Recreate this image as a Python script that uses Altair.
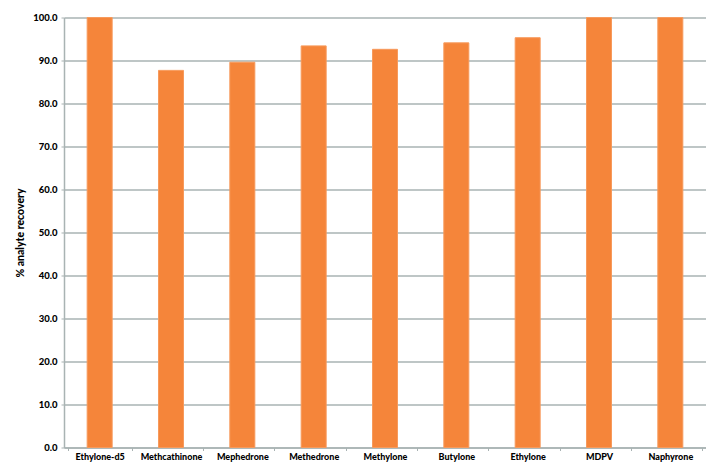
import altair as alt
import pandas as pd

compounds = ["Ethylone-d5", "Methcathinone", "Mephedrone", "Methedrone", "Methylone",
             "Butylone", "Ethylone", "MDPV", "Naphyrone"]
recovery = [100.0, 87.7, 89.6, 93.4, 92.6, 94.1, 95.3, 100.0, 100.0]
y_ticks = [0, 10, 20, 30, 40, 50, 60, 70, 80, 90, 100]

df = pd.DataFrame({"compound": compounds, "recovery": recovery})

FONT = "Lato"

chart = alt.Chart(df).mark_bar(
    color="#F5853A", stroke="#F79A5C", strokeWidth=1, size=25
).encode(
    x=alt.X("compound:N", sort=compounds, title=None,
            axis=alt.Axis(labelAngle=0, labelFont=FONT, labelFontWeight=900,
                          labelFontSize=9, labelColor="#000000", labelPadding=2,
                          tickBand="extent", tickColor="#A9B3B3", tickSize=3,
                          domainColor="#A9B3B3", domainWidth=1.5, grid=False)),
    y=alt.Y("recovery:Q", scale=alt.Scale(domain=[0, 100], nice=False),
            title="% analyte recovery",
            axis=alt.Axis(values=y_ticks, format=".1f", labelFont=FONT,
                          labelFontWeight=900, labelFontSize=9.5, labelColor="#000000",
                          labelPadding=4, tickColor="#A9B3B3", tickSize=3,
                          domainColor="#A9B3B3", domainWidth=1.5,
                          gridColor="#A9B3B3", gridWidth=1.5,
                          titleFont=FONT, titleFontWeight=900, titleFontSize=10.5,
                          titleColor="#000000", titlePadding=7)),
).properties(
    width=642, height=430,
    autosize=alt.AutoSizeParams(type="none"),
    padding={"left": 56, "top": 9.5, "right": 0, "bottom": 16.5},
).configure_view(stroke=None)

chart.save("out.html", embed_options={"renderer": "svg", "actions": False})
